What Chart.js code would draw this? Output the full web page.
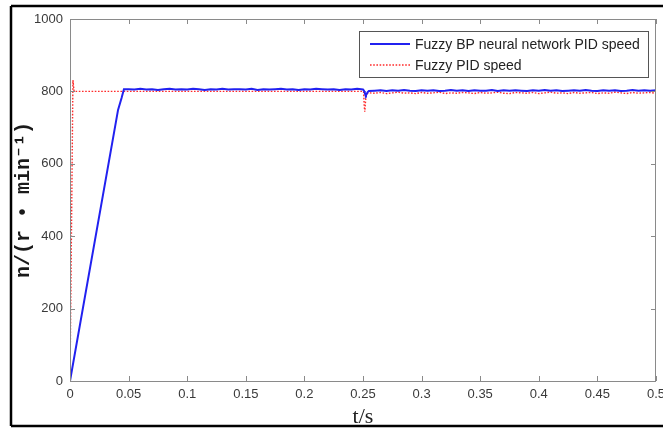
<!DOCTYPE html>
<html>
<head>
<meta charset="utf-8">
<script src="https://cdn.jsdelivr.net/npm/chart.js@4"></script>
<style>
  html, body { margin: 0; padding: 0; background: #fff; }
  #wrap { width: 663px; height: 428px; position: relative; }
</style>
</head>
<body>
<div id="wrap"><canvas id="c" width="663" height="428"></canvas></div>
<script>
// Speed response (r/min) versus time (s) for the two controllers.

const seriesNames = ['Fuzzy BP neural network PID speed', 'Fuzzy PID speed'];

const xTicks = [0, 0.05, 0.1, 0.15, 0.2, 0.25, 0.3, 0.35, 0.4, 0.45, 0.5];
const xTickLabels = ['0', '0.05', '0.1', '0.15', '0.2', '0.25', '0.3', '0.35', '0.4', '0.45', '0.5'];
const yTicks = [0, 200, 400, 600, 800, 1000];
const yTickLabels = ['0', '200', '400', '600', '800', '1000'];

// Fuzzy BP neural network PID: start-up ramp
const bpRiseTime = [0, 0.041, 0.044, 0.046];
const bpRise = [0, 749, 782, 806];

// steady running before the load step
const holdTime = [
  0.05, 0.055, 0.06, 0.065, 0.07, 0.075, 0.08, 0.085, 0.09, 0.095,
  0.1, 0.105, 0.11, 0.115, 0.12, 0.125, 0.13, 0.135, 0.14, 0.145,
  0.15, 0.155, 0.16, 0.165, 0.17, 0.175, 0.18, 0.185, 0.19, 0.195,
  0.2, 0.205, 0.21, 0.215, 0.22, 0.225, 0.23, 0.235, 0.24, 0.245,
  0.25
];
const bpHold = [
  806, 805, 807, 805, 806, 804, 806, 807, 805, 806,
  805, 807, 806, 804, 806, 805, 807, 805, 806, 806,
  805, 807, 804, 806, 805, 806, 807, 805, 806, 804,
  806, 805, 807, 806, 805, 806, 804, 806, 805, 807,
  805
];

// load disturbance at 0.25 s
const dipTime = [0.2505, 0.251, 0.2515, 0.252, 0.2525, 0.253, 0.254, 0.255];
const bpDip = [804, 801, 796, 791, 789, 792, 798, 801];
const fzDip = [800, 762, 744, 766, 783, 792, 795, 796];

// steady running after the load step
const tailTime = [
  0.26, 0.265, 0.27, 0.275, 0.28, 0.285, 0.29, 0.295, 0.3, 0.305,
  0.31, 0.315, 0.32, 0.325, 0.33, 0.335, 0.34, 0.345, 0.35, 0.355,
  0.36, 0.365, 0.37, 0.375, 0.38, 0.385, 0.39, 0.395, 0.4, 0.405,
  0.41, 0.415, 0.42, 0.425, 0.43, 0.435, 0.44, 0.445, 0.45, 0.455,
  0.46, 0.465, 0.47, 0.475, 0.48, 0.485, 0.49, 0.495, 0.5
];
const bpTail = [
  802, 803, 801, 803, 802, 804, 802, 801, 803, 802,
  803, 801, 802, 804, 802, 803, 801, 803, 802, 802,
  804, 801, 803, 802, 803, 802, 801, 803, 802, 804,
  802, 803, 801, 802, 803, 802, 804, 802, 801, 803,
  802, 803, 801, 802, 804, 802, 803, 802, 803
];
const fzTail = [
  795, 797, 794, 796, 798, 795, 796, 794, 797, 795,
  796, 798, 794, 796, 795, 797, 796, 794, 797, 795,
  796, 798, 795, 794, 797, 796, 795, 797, 794, 796,
  798, 795, 796, 794, 797, 795, 796, 797, 794, 796,
  795, 798, 796, 794, 797, 795, 796, 797, 795
];

// Fuzzy PID: fast rise with overshoot, then level until the load step
const fzRiseTime = [0, 0.0025, 0.0035, 0.25];
const fzRise = [0, 831, 800, 800];

const pairs = (ts, vs) => ts.map((t, i) => ({ x: t, y: vs[i] }));

const bpData = [].concat(
  pairs(bpRiseTime, bpRise), pairs(holdTime, bpHold),
  pairs(dipTime, bpDip), pairs(tailTime, bpTail)
);
const fzData = [].concat(
  pairs(fzRiseTime, fzRise), pairs(dipTime, fzDip), pairs(tailTime, fzTail)
);

const axisGray = '#8a8a8a';
const labelColor = '#3a3a3a';

// Outer black frame of the figure
const framePlugin = {
  id: 'figFrame',
  afterDraw(chart) {
    const c = chart.ctx;
    c.save();
    c.strokeStyle = '#000';
    c.lineWidth = 2.5;
    c.beginPath();
    c.moveTo(11, 6); c.lineTo(670, 6);
    c.moveTo(11, 6); c.lineTo(11, 426);
    c.moveTo(11, 426); c.lineTo(670, 426);
    c.stroke();
    c.restore();
  }
};

// Axes box with inward tick marks on all four sides
const boxPlugin = {
  id: 'axesBox',
  afterDatasetsDraw(chart) {
    const { ctx: c, chartArea: a, scales } = chart;
    const len = 5;
    c.save();
    c.strokeStyle = axisGray;
    c.lineWidth = 1;
    c.strokeRect(a.left + 0.5, a.top + 0.5, a.right - a.left - 1, a.bottom - a.top);
    c.beginPath();
    scales.x.ticks.forEach(t => {
      const px = Math.round(scales.x.getPixelForValue(t.value)) + 0.5;
      c.moveTo(px, a.bottom); c.lineTo(px, a.bottom - len);
      c.moveTo(px, a.top); c.lineTo(px, a.top + len);
    });
    scales.y.ticks.forEach(t => {
      const py = Math.round(scales.y.getPixelForValue(t.value)) + 0.5;
      c.moveTo(a.left, py); c.lineTo(a.left + len, py);
      c.moveTo(a.right, py); c.lineTo(a.right - len, py);
    });
    c.stroke();
    c.restore();
  }
};

// Boxed legend in the upper right of the plot
const legendPlugin = {
  id: 'boxLegend',
  afterDraw(chart) {
    const c = chart.ctx;
    const bx = 359, by = 31, bw = 289, bh = 46;
    c.save();
    c.fillStyle = '#fff';
    c.fillRect(bx, by, bw, bh);
    c.strokeStyle = '#555';
    c.lineWidth = 1;
    c.strokeRect(bx + 0.5, by + 0.5, bw, bh);
    chart.data.datasets.forEach((ds, i) => {
      const y = by + 13 + i * 21;
      c.strokeStyle = ds.borderColor;
      c.lineWidth = ds.borderWidth;
      c.setLineDash(ds.borderDash || []);
      c.beginPath();
      c.moveTo(370, y); c.lineTo(410, y);
      c.stroke();
      c.setLineDash([]);
      c.fillStyle = '#222';
      c.font = '14px "Liberation Sans", Arial, sans-serif';
      c.textBaseline = 'middle';
      c.textAlign = 'left';
      c.fillText(ds.label, 415, y + 1);
    });
    c.restore();
  }
};

const tickFont = { family: '"Liberation Sans", Arial, sans-serif', size: 13 };

new Chart(document.getElementById('c'), {
  type: 'line',
  data: {
    datasets: [
      {
        label: seriesNames[0], data: bpData,
        borderColor: '#2121f0', borderWidth: 2,
        pointRadius: 0, tension: 0, order: 0
      },
      {
        label: seriesNames[1], data: fzData,
        borderColor: '#ff2b2b', borderWidth: 1.4, borderDash: [1.6, 1.6],
        pointRadius: 0, tension: 0, order: 1
      }
    ]
  },
  options: {
    responsive: false,
    animation: false,
    layout: { padding: { left: 0, right: 7, top: 19, bottom: 0 } },
    plugins: { legend: { display: false }, tooltip: { enabled: false } },
    scales: {
      x: {
        type: 'linear', min: 0, max: 0.5,
        afterBuildTicks: s => { s.ticks = xTicks.map(v => ({ value: v })); },
        afterFit: s => { s.height = 47; s.paddingLeft = 0; s.paddingRight = 0; },
        ticks: {
          callback: (v, i) => xTickLabels[i],
          font: tickFont, color: labelColor, padding: 6,
          maxRotation: 0, autoSkip: false
        },
        grid: { display: false, drawTicks: false },
        border: { display: false },
        title: {
          display: true, text: 't/s', color: '#222',
          font: { family: '"Liberation Serif", "DejaVu Serif", serif', size: 22 },
          padding: { top: 0, bottom: -2 }
        }
      },
      y: {
        type: 'linear', min: 0, max: 1000,
        afterBuildTicks: s => { s.ticks = yTicks.map(v => ({ value: v })); },
        afterFit: s => { s.width = 70; s.paddingTop = 0; s.paddingBottom = 0; },
        ticks: {
          callback: (v, i) => yTickLabels[i],
          font: tickFont, color: labelColor, padding: 7, autoSkip: false
        },
        grid: { display: false, drawTicks: false },
        border: { display: false },
        title: {
          display: true, text: 'n/(r • min⁻¹)', color: '#1a1a1a',
          font: { family: '"Liberation Mono", "DejaVu Sans Mono", monospace', size: 20, weight: 'bold' },
          padding: { top: 12, bottom: 0 }
        }
      }
    }
  },
  plugins: [boxPlugin, legendPlugin, framePlugin]
});
</script>
</body>
</html>
